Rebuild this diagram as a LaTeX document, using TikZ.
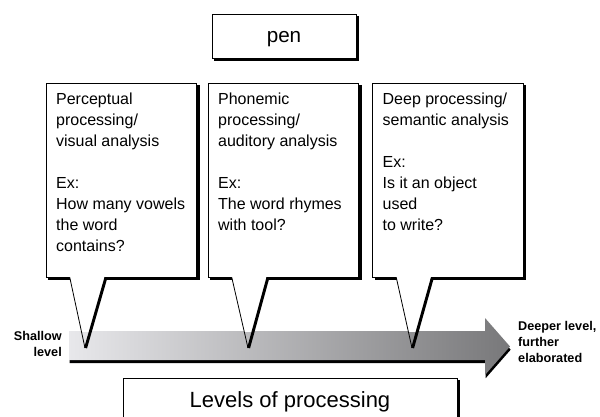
\documentclass[tikz,border=0pt]{standalone}
\usepackage{fontspec}
\setmainfont{Liberation Sans}
\usetikzlibrary{shadows,calc,backgrounds}

\begin{document}
\begin{tikzpicture}[x=0.75pt,y=-0.75pt,
        b/.style={rectangle, draw, line width=0.6pt, fill=white},
        c/.style={b, inner xsep=7.5pt, inner ysep=0pt,
                        minimum width=112.5pt, minimum height=145.5pt,
                        font=\fontsize{12}{15.75}\selectfont},
        s/.style={font=\fontsize{9.5}{12}\selectfont\bfseries}]
    \useasboundingbox (0,0) rectangle (600,417);
    % gradient arrow
    \path[left color={rgb,255:red,232;green,232;blue,235},
          right color={rgb,255:red,120;green,120;blue,122},
          drop shadow={shadow xshift=0.5pt, shadow yshift=-2.4pt,
                        fill=black, opacity=1}]
        (69,331) -- (485,331) -- (485,318) -- (510,346.5) --
        (485,375) -- (485,360) -- (69,360) -- cycle;
    \node[s, anchor=east, align=right] (sh) at (66.5,344) {Shallow\\level};
    \node[s, anchor=west, align=left] (dp) at (513.5,342)
        {Deeper level,\\further\\elaborated};
    % boxes
    \node[b, minimum width=108pt, minimum height=33pt,
          text height=10pt, text depth=0pt,
          font=\fontsize{15.5}{18}\selectfont] (pen) at (284,36) {pen};
    \node[c] (c1) at (121.5,180) {\parbox[c][130pt][t]{98pt}{\raggedright
        Perceptual\\processing/\\visual analysis\\[15.75pt]Ex:\\
        How many vowels\\the word\\contains?}};
    \node[c] (c2) at (283.5,180) {\parbox[c][130pt][t]{98pt}{\raggedright
        Phonemic\\processing/\\auditory analysis\\[15.75pt]Ex:\\
        The word rhymes\\with tool?}};
    \node[c] (c3) at (448,180) {\parbox[c][130pt][t]{98pt}{\raggedright
        Deep processing/\\semantic analysis\\[15.75pt]Ex:\\
        Is it an object\\used\\to write?}};
    \node[b, minimum width=250.5pt, minimum height=36pt,
          font=\fontsize{16.5}{20}\selectfont] (lv) at (290,402)
        {Levels of processing};
    % shadows
    \begin{scope}[on background layer]
        \foreach \n in {pen,c1,c2,c3,lv}
            \fill ($(\n.south west)+(2.5,2.5)$) rectangle ($(\n.north east)+(2.5,2.5)$);
    \end{scope}
    % pointers
    \coordinate (t1) at (85,348);
    \coordinate (t2) at (248,348);
    \coordinate (t3) at (412,348);
    \foreach \i in {1,2,3} {
        \coordinate (l\i) at ($(c\i.south west)+(24,0)$);
        \coordinate (r\i) at ($(c\i.south west)+(59,0)$);
    }
    \begin{scope}
        \clip (0,0) rectangle (600,331);
        \foreach \i in {1,2,3}
            \fill[white] ($(l\i)+(0,-0.8)$) -- (t\i) -- ($(r\i)+(0,-0.8)$) -- cycle;
    \end{scope}
    \foreach \i in {1,2,3} {
        \draw[line width=0.6pt] (l\i) -- (t\i);
        \draw[line width=2.2pt] ($(r\i)+(1.2,0)$) -- ($(t\i)+(0.6,0)$);
    }
\end{tikzpicture}
\end{document}
